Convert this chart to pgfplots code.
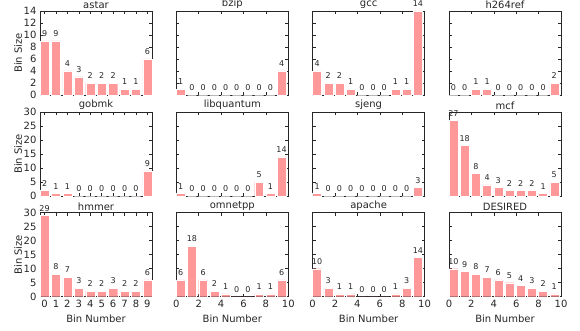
\documentclass[border=0pt]{standalone}
\usepackage{fontspec}
\setmainfont{DejaVu Sans}
\usepackage{pgfplots}
\pgfplotsset{compat=1.18}
\definecolor{barpink}{RGB}{255,153,153}
\pgfplotsset{
 every axis title shift=0pt,
 every axis title/.style={at={(0.5,1)}, anchor=south, inner sep=2pt},
 panel/.style={scale only axis, width=112pt, height=84pt, anchor=south west,
   axis line style={black!85, line width=0.8pt}, tick align=inside, major tick length=3pt,
   tick style={black!85, line width=0.6pt},
   xtick pos=both, ytick pos=both,
   ymin=0, clip=false,
   /pgf/number format/assume math mode=true,
   tick label style={font=\fontsize{10}{12}\selectfont, text=black!85},
   title style={font=\fontsize{10}{12}\selectfont, text=black!85},
   label style={font=\fontsize{10}{12}\selectfont, text=black!85},
   ylabel style={at={(axis description cs:-0.196,0.5)}, anchor=center},
   nodes near coords,
   nodes near coords style={font=\fontsize{8}{9}\selectfont, inner sep=1.5pt, anchor=south, yshift=2.5pt, text=black!85},
 },
 c1/.style={xmin=-0.4, xmax=9.4, xtick={0,...,9}},
 cr/.style={xmin=-0.4, xmax=9.6, xtick={-0.4,1.6,3.6,5.6,7.6,9.6}, xticklabels={0,2,4,6,8,10}},
 r1/.style={ymax=14, ytick={0,2,...,14}},
 r2/.style={ymax=30, ytick={0,5,...,30}},
 nox/.style={xticklabels={}},
 noy/.style={yticklabels={}},
 bars/.style={ybar, bar width=0.8, bar shift=0, fill=barpink, draw=white, line width=0.4pt},
}
\begin{document}
\begin{tikzpicture}
\path[use as bounding box] (0,0) rectangle (580pt,330pt);
% Row 1
\begin{axis}[panel, c1, r1, nox, at={(40pt,235pt)}, title={astar}, ylabel={Bin Size}]
\addplot[bars] coordinates {(0,9) (1,9) (2,4) (3,3) (4,2) (5,2) (6,2) (7,1) (8,1) (9,6)};
\end{axis}
\begin{axis}[panel, cr, r1, nox, noy, at={(176.3pt,235pt)}, title={bzip}]
\addplot[bars] coordinates {(0,1) (1,0) (2,0) (3,0) (4,0) (5,0) (6,0) (7,0) (8,0) (9,4)};
\end{axis}
\begin{axis}[panel, cr, r1, nox, noy, at={(312.6pt,235pt)}, title={gcc}]
\addplot[bars] coordinates {(0,4) (1,2) (2,2) (3,1) (4,0) (5,0) (6,0) (7,1) (8,1) (9,14)};
\end{axis}
\begin{axis}[panel, cr, r1, nox, noy, at={(449pt,235pt)}, title={h264ref}]
\addplot[bars] coordinates {(0,0) (1,0) (2,1) (3,1) (4,0) (5,0) (6,0) (7,0) (8,0) (9,2)};
\end{axis}
% Row 2
\begin{axis}[panel, c1, r2, nox, at={(40pt,134pt)}, title={gobmk}, ylabel={Bin Size}]
\addplot[bars] coordinates {(0,2) (1,1) (2,1) (3,0) (4,0) (5,0) (6,0) (7,0) (8,0) (9,9)};
\end{axis}
\begin{axis}[panel, cr, r2, nox, noy, at={(176.3pt,134pt)}, title={libquantum}]
\addplot[bars] coordinates {(0,1) (1,0) (2,0) (3,0) (4,0) (5,0) (6,0) (7,5) (8,1) (9,14)};
\end{axis}
\begin{axis}[panel, cr, r2, nox, noy, at={(312.6pt,134pt)}, title={sjeng}]
\addplot[bars] coordinates {(0,1) (1,0) (2,0) (3,0) (4,0) (5,0) (6,0) (7,0) (8,0) (9,3)};
\end{axis}
\begin{axis}[panel, cr, r2, nox, noy, at={(449pt,134pt)}, title={mcf}]
\addplot[bars] coordinates {(0,27) (1,18) (2,8) (3,4) (4,3) (5,2) (6,2) (7,2) (8,1) (9,5)};
\end{axis}
% Row 3
\begin{axis}[panel, c1, r2, at={(40pt,33.3pt)}, title={hmmer}, ylabel={Bin Size}, xlabel={Bin Number}]
\addplot[bars] coordinates {(0,29) (1,8) (2,7) (3,3) (4,2) (5,2) (6,3) (7,2) (8,2) (9,6)};
\end{axis}
\begin{axis}[panel, cr, r2, noy, at={(176.3pt,33.3pt)}, title={omnetpp}, xlabel={Bin Number}]
\addplot[bars] coordinates {(0,6) (1,18) (2,6) (3,2) (4,1) (5,0) (6,0) (7,1) (8,1) (9,6)};
\end{axis}
\begin{axis}[panel, cr, r2, noy, at={(312.6pt,33.3pt)}, title={apache}, xlabel={Bin Number}]
\addplot[bars] coordinates {(0,10) (1,3) (2,1) (3,1) (4,0) (5,0) (6,0) (7,1) (8,3) (9,14)};
\end{axis}
\begin{axis}[panel, cr, r2, noy, at={(449pt,33.3pt)}, title={DESIRED}, xlabel={Bin Number}]
\addplot[bars] coordinates {(0,10) (1,9) (2,8) (3,7) (4,6) (5,5) (6,4) (7,3) (8,2) (9,1)};
\end{axis}
\end{tikzpicture}
\end{document}
